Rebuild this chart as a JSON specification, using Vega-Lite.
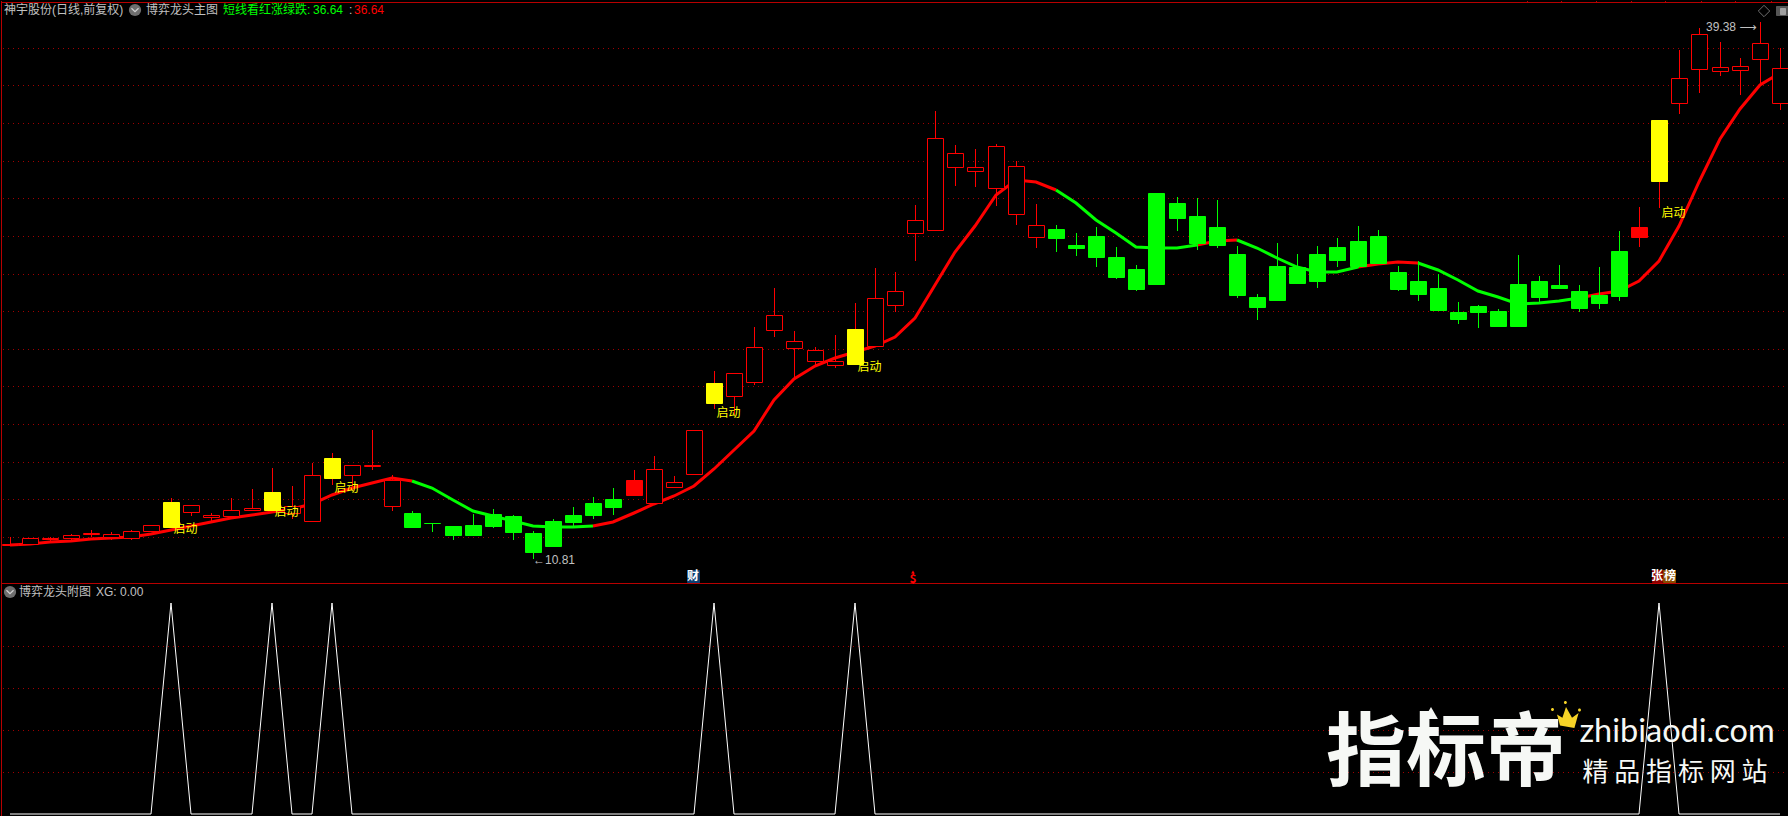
{
"$schema":"https://vega.github.io/schema/vega-lite/v6.json",
"background":"#000000","padding":0,"spacing":0,"bounds":"flush",
"autosize":{"type":"pad"},
"config":{"view":{"stroke":null},"concat":{"spacing":0}},
"datasets":{
"candles":[
{"d":0,"open":11.58,"close":11.62,"high":11.97,"low":11.56,"kind":"up"},
{"d":1,"open":11.60,"close":11.93,"high":11.93,"low":11.60,"kind":"up"},
{"d":2,"open":11.87,"close":11.93,"high":11.99,"low":11.70,"kind":"up"},
{"d":3,"open":11.91,"close":12.07,"high":12.15,"low":11.83,"kind":"up"},
{"d":4,"open":12.15,"close":12.19,"high":12.38,"low":11.99,"kind":"up"},
{"d":5,"open":11.97,"close":12.13,"high":12.27,"low":11.83,"kind":"up"},
{"d":6,"open":11.95,"close":12.29,"high":12.38,"low":11.85,"kind":"up"},
{"d":7,"open":12.33,"close":12.62,"high":12.62,"low":12.23,"kind":"up"},
{"d":8,"open":12.54,"close":13.86,"high":14.06,"low":12.52,"kind":"signal"},
{"d":9,"open":13.31,"close":13.68,"high":13.68,"low":13.13,"kind":"up"},
{"d":10,"open":13.05,"close":13.15,"high":13.27,"low":12.84,"kind":"up"},
{"d":11,"open":13.11,"close":13.41,"high":14.06,"low":12.99,"kind":"up"},
{"d":12,"open":13.45,"close":13.51,"high":14.55,"low":13.39,"kind":"up"},
{"d":13,"open":13.43,"close":14.39,"high":15.67,"low":13.39,"kind":"signal"},
{"d":14,"open":13.27,"close":13.66,"high":14.72,"low":12.92,"kind":"up"},
{"d":15,"open":12.86,"close":15.29,"high":15.94,"low":12.80,"kind":"up"},
{"d":16,"open":15.14,"close":16.20,"high":16.47,"low":14.76,"kind":"signal"},
{"d":17,"open":15.26,"close":15.81,"high":15.81,"low":14.41,"kind":"up"},
{"d":18,"open":15.75,"close":15.81,"high":17.69,"low":15.57,"kind":"up"},
{"d":19,"open":13.62,"close":15.00,"high":15.26,"low":13.39,"kind":"up"},
{"d":20,"open":13.27,"close":12.54,"high":13.37,"low":12.54,"kind":"down"},
{"d":21,"open":12.76,"close":12.72,"high":12.76,"low":12.27,"kind":"down"},
{"d":22,"open":12.58,"close":12.11,"high":12.58,"low":11.85,"kind":"down"},
{"d":23,"open":12.64,"close":12.11,"high":13.21,"low":12.11,"kind":"down"},
{"d":24,"open":13.23,"close":12.58,"high":13.49,"low":12.48,"kind":"down"},
{"d":25,"open":13.13,"close":12.27,"high":13.17,"low":11.81,"kind":"down"},
{"d":26,"open":12.21,"close":11.19,"high":12.31,"low":10.81,"kind":"down"},
{"d":27,"open":12.84,"close":11.52,"high":12.92,"low":11.52,"kind":"down"},
{"d":28,"open":13.17,"close":12.80,"high":13.60,"low":12.56,"kind":"down"},
{"d":29,"open":13.80,"close":13.17,"high":14.10,"low":12.92,"kind":"down"},
{"d":30,"open":14.02,"close":13.60,"high":14.61,"low":13.17,"kind":"down"},
{"d":31,"open":14.23,"close":15.04,"high":15.57,"low":14.15,"kind":"limit"},
{"d":32,"open":13.82,"close":15.59,"high":16.30,"low":13.82,"kind":"up"},
{"d":33,"open":14.67,"close":14.92,"high":15.24,"low":14.67,"kind":"up"},
{"d":34,"open":15.33,"close":17.67,"high":17.67,"low":15.33,"kind":"up"},
{"d":35,"open":19.13,"close":20.19,"high":20.82,"low":18.77,"kind":"signal"},
{"d":36,"open":19.48,"close":20.70,"high":20.70,"low":18.48,"kind":"up"},
{"d":37,"open":20.21,"close":22.08,"high":23.16,"low":20.05,"kind":"up"},
{"d":38,"open":22.98,"close":23.79,"high":25.24,"low":22.63,"kind":"up"},
{"d":39,"open":22.02,"close":22.41,"high":22.94,"low":20.37,"kind":"up"},
{"d":40,"open":21.33,"close":21.94,"high":22.08,"low":21.13,"kind":"up"},
{"d":41,"open":21.13,"close":21.35,"high":22.73,"low":21.00,"kind":"up"},
{"d":42,"open":21.21,"close":23.06,"high":24.44,"low":21.21,"kind":"signal"},
{"d":43,"open":22.12,"close":24.69,"high":26.31,"low":22.12,"kind":"up"},
{"d":44,"open":24.30,"close":25.07,"high":26.09,"low":23.97,"kind":"up"},
{"d":45,"open":28.13,"close":28.84,"high":29.65,"low":26.68,"kind":"up"},
{"d":46,"open":28.29,"close":33.19,"high":34.66,"low":28.29,"kind":"up"},
{"d":47,"open":31.65,"close":32.40,"high":32.81,"low":30.67,"kind":"up"},
{"d":48,"open":31.44,"close":31.67,"high":32.60,"low":30.61,"kind":"up"},
{"d":49,"open":30.57,"close":32.77,"high":32.89,"low":29.61,"kind":"up"},
{"d":50,"open":29.14,"close":31.71,"high":31.99,"low":28.59,"kind":"up"},
{"d":51,"open":27.92,"close":28.57,"high":29.71,"low":27.37,"kind":"up"},
{"d":52,"open":28.39,"close":27.90,"high":28.59,"low":27.15,"kind":"down"},
{"d":53,"open":27.54,"close":27.37,"high":28.17,"low":26.95,"kind":"down"},
{"d":54,"open":28.00,"close":26.88,"high":28.49,"low":26.36,"kind":"down"},
{"d":55,"open":26.88,"close":25.83,"high":27.43,"low":25.72,"kind":"down"},
{"d":56,"open":26.25,"close":25.20,"high":26.46,"low":25.09,"kind":"down"},
{"d":57,"open":30.30,"close":25.46,"high":30.30,"low":25.46,"kind":"down"},
{"d":58,"open":29.75,"close":28.96,"high":30.08,"low":28.27,"kind":"down"},
{"d":59,"open":29.08,"close":27.62,"high":30.04,"low":27.27,"kind":"down"},
{"d":60,"open":28.49,"close":27.54,"high":29.92,"low":27.37,"kind":"down"},
{"d":61,"open":27.05,"close":24.87,"high":27.47,"low":24.71,"kind":"down"},
{"d":62,"open":24.77,"close":24.24,"high":24.93,"low":23.55,"kind":"down"},
{"d":63,"open":26.42,"close":24.61,"high":27.64,"low":24.61,"kind":"down"},
{"d":64,"open":26.36,"close":25.50,"high":27.05,"low":25.46,"kind":"down"},
{"d":65,"open":27.05,"close":25.62,"high":27.47,"low":25.24,"kind":"down"},
{"d":66,"open":27.43,"close":26.74,"high":27.90,"low":26.36,"kind":"down"},
{"d":67,"open":27.74,"close":26.42,"high":28.53,"low":26.31,"kind":"down"},
{"d":68,"open":28.00,"close":26.58,"high":28.33,"low":26.58,"kind":"down"},
{"d":69,"open":26.09,"close":25.20,"high":26.42,"low":25.09,"kind":"down"},
{"d":70,"open":25.62,"close":24.93,"high":26.66,"low":24.54,"kind":"down"},
{"d":71,"open":25.24,"close":24.08,"high":25.95,"low":24.02,"kind":"down"},
{"d":72,"open":23.97,"close":23.59,"high":24.50,"low":23.32,"kind":"down"},
{"d":73,"open":24.28,"close":23.97,"high":24.34,"low":23.12,"kind":"down"},
{"d":74,"open":24.02,"close":23.22,"high":24.12,"low":23.16,"kind":"down"},
{"d":75,"open":25.46,"close":23.22,"high":27.01,"low":23.22,"kind":"down"},
{"d":76,"open":25.62,"close":24.77,"high":25.89,"low":24.38,"kind":"down"},
{"d":77,"open":25.40,"close":25.24,"high":26.46,"low":25.20,"kind":"down"},
{"d":78,"open":25.09,"close":24.18,"high":25.40,"low":23.97,"kind":"down"},
{"d":79,"open":24.87,"close":24.44,"high":26.36,"low":24.12,"kind":"down"},
{"d":80,"open":27.21,"close":24.81,"high":28.25,"low":24.54,"kind":"down"},
{"d":81,"open":27.96,"close":28.49,"high":29.55,"low":27.43,"kind":"limit"},
{"d":82,"open":30.93,"close":34.17,"high":34.17,"low":29.49,"kind":"signal"},
{"d":83,"open":35.05,"close":36.39,"high":37.89,"low":34.50,"kind":"up"},
{"d":84,"open":36.86,"close":38.73,"high":39.07,"low":35.61,"kind":"up"},
{"d":85,"open":36.75,"close":36.98,"high":38.32,"low":36.51,"kind":"up"},
{"d":86,"open":36.80,"close":37.04,"high":37.45,"low":35.51,"kind":"up"},
{"d":87,"open":37.39,"close":38.26,"high":39.38,"low":36.08,"kind":"up"},
{"d":88,"open":35.05,"close":36.92,"high":37.98,"low":34.72,"kind":"up"}
],
"ma":[
{"d":0,"ma":11.58,"seg":1,"trend":"up"},{"d":1,"ma":11.62,"seg":1,"trend":"up"},{"d":2,"ma":11.70,"seg":1,"trend":"up"},{"d":3,"ma":11.79,"seg":1,"trend":"up"},{"d":4,"ma":11.87,"seg":1,"trend":"up"},{"d":5,"ma":11.95,"seg":1,"trend":"up"},{"d":6,"ma":12.01,"seg":1,"trend":"up"},{"d":7,"ma":12.15,"seg":1,"trend":"up"},{"d":8,"ma":12.38,"seg":1,"trend":"up"},{"d":9,"ma":12.56,"seg":1,"trend":"up"},{"d":10,"ma":12.78,"seg":1,"trend":"up"},{"d":11,"ma":13.01,"seg":1,"trend":"up"},{"d":12,"ma":13.17,"seg":1,"trend":"up"},{"d":13,"ma":13.33,"seg":1,"trend":"up"},{"d":14,"ma":13.47,"seg":1,"trend":"up"},{"d":15,"ma":13.74,"seg":1,"trend":"up"},{"d":16,"ma":14.23,"seg":1,"trend":"up"},{"d":17,"ma":14.59,"seg":1,"trend":"up"},{"d":18,"ma":14.88,"seg":1,"trend":"up"},{"d":19,"ma":15.10,"seg":1,"trend":"up"},{"d":20,"ma":14.98,"seg":1,"trend":"up"},
{"d":20,"ma":14.98,"seg":2,"trend":"down"},{"d":21,"ma":14.57,"seg":2,"trend":"down"},{"d":22,"ma":13.96,"seg":2,"trend":"down"},{"d":23,"ma":13.37,"seg":2,"trend":"down"},{"d":24,"ma":13.09,"seg":2,"trend":"down"},{"d":25,"ma":12.84,"seg":2,"trend":"down"},{"d":26,"ma":12.56,"seg":2,"trend":"down"},{"d":27,"ma":12.54,"seg":2,"trend":"down"},{"d":28,"ma":12.52,"seg":2,"trend":"down"},{"d":29,"ma":12.60,"seg":2,"trend":"down"},
{"d":29,"ma":12.60,"seg":3,"trend":"up"},{"d":30,"ma":12.78,"seg":3,"trend":"up"},{"d":31,"ma":13.29,"seg":3,"trend":"up"},{"d":32,"ma":13.74,"seg":3,"trend":"up"},{"d":33,"ma":14.15,"seg":3,"trend":"up"},{"d":34,"ma":14.72,"seg":3,"trend":"up"},{"d":35,"ma":15.61,"seg":3,"trend":"up"},{"d":36,"ma":16.59,"seg":3,"trend":"up"},{"d":37,"ma":17.61,"seg":3,"trend":"up"},{"d":38,"ma":19.25,"seg":3,"trend":"up"},{"d":39,"ma":20.37,"seg":3,"trend":"up"},{"d":40,"ma":21.09,"seg":3,"trend":"up"},{"d":41,"ma":21.53,"seg":3,"trend":"up"},{"d":42,"ma":21.80,"seg":3,"trend":"up"},{"d":43,"ma":22.14,"seg":3,"trend":"up"},{"d":44,"ma":22.61,"seg":3,"trend":"up"},{"d":45,"ma":23.63,"seg":3,"trend":"up"},{"d":46,"ma":25.40,"seg":3,"trend":"up"},{"d":47,"ma":27.13,"seg":3,"trend":"up"},{"d":48,"ma":28.51,"seg":3,"trend":"up"},{"d":49,"ma":30.18,"seg":3,"trend":"up"},{"d":50,"ma":30.95,"seg":3,"trend":"up"},{"d":51,"ma":30.87,"seg":3,"trend":"up"},{"d":52,"ma":30.43,"seg":3,"trend":"up"},
{"d":52,"ma":30.43,"seg":4,"trend":"down"},{"d":53,"ma":29.77,"seg":4,"trend":"down"},{"d":54,"ma":28.84,"seg":4,"trend":"down"},{"d":55,"ma":28.15,"seg":4,"trend":"down"},{"d":56,"ma":27.43,"seg":4,"trend":"down"},{"d":57,"ma":27.33,"seg":4,"trend":"down"},{"d":58,"ma":27.37,"seg":4,"trend":"down"},{"d":59,"ma":27.54,"seg":4,"trend":"down"},
{"d":59,"ma":27.54,"seg":5,"trend":"up"},{"d":60,"ma":27.72,"seg":5,"trend":"up"},{"d":61,"ma":27.76,"seg":5,"trend":"up"},
{"d":61,"ma":27.76,"seg":6,"trend":"down"},{"d":62,"ma":27.33,"seg":6,"trend":"down"},{"d":63,"ma":26.80,"seg":6,"trend":"down"},{"d":64,"ma":26.36,"seg":6,"trend":"down"},{"d":65,"ma":26.07,"seg":6,"trend":"down"},{"d":66,"ma":26.09,"seg":6,"trend":"down"},{"d":67,"ma":26.36,"seg":6,"trend":"down"},
{"d":67,"ma":26.36,"seg":7,"trend":"up"},{"d":68,"ma":26.52,"seg":7,"trend":"up"},{"d":69,"ma":26.62,"seg":7,"trend":"up"},{"d":70,"ma":26.54,"seg":7,"trend":"up"},
{"d":70,"ma":26.54,"seg":8,"trend":"down"},{"d":71,"ma":26.21,"seg":8,"trend":"down"},{"d":72,"ma":25.64,"seg":8,"trend":"down"},{"d":73,"ma":25.09,"seg":8,"trend":"down"},{"d":74,"ma":24.73,"seg":8,"trend":"down"},{"d":75,"ma":24.38,"seg":8,"trend":"down"},{"d":76,"ma":24.44,"seg":8,"trend":"down"},{"d":77,"ma":24.54,"seg":8,"trend":"down"},{"d":78,"ma":24.69,"seg":8,"trend":"down"},
{"d":78,"ma":24.69,"seg":9,"trend":"up"},{"d":79,"ma":24.89,"seg":9,"trend":"up"},{"d":80,"ma":25.09,"seg":9,"trend":"up"},{"d":81,"ma":25.58,"seg":9,"trend":"up"},{"d":82,"ma":26.68,"seg":9,"trend":"up"},{"d":83,"ma":28.55,"seg":9,"trend":"up"},{"d":84,"ma":30.89,"seg":9,"trend":"up"},{"d":85,"ma":33.13,"seg":9,"trend":"up"},{"d":86,"ma":34.76,"seg":9,"trend":"up"},{"d":87,"ma":36.04,"seg":9,"trend":"up"},{"d":88,"ma":36.64,"seg":9,"trend":"up"}
],
"priceGrid":[{"level":12,"d":-0.38,"dEnd":88.38},{"level":14,"d":-0.38,"dEnd":88.38},{"level":16,"d":-0.38,"dEnd":88.38},{"level":18,"d":-0.38,"dEnd":88.38},{"level":20,"d":-0.38,"dEnd":88.38},{"level":22,"d":-0.38,"dEnd":88.38},{"level":24,"d":-0.38,"dEnd":88.38},{"level":26,"d":-0.38,"dEnd":88.38},{"level":28,"d":-0.38,"dEnd":88.38},{"level":30,"d":-0.38,"dEnd":88.38},{"level":32,"d":-0.38,"dEnd":88.38},{"level":34,"d":-0.38,"dEnd":88.38},{"level":36,"d":-0.38,"dEnd":88.38},{"level":38,"d":-0.38,"dEnd":88.38}],
"priceFrame":[{"level":40.44,"d":-0.457,"dEnd":88.455},{"level":9.54,"d":-0.457,"dEnd":88.455}],
"topTicks":[{"d":75.44,"lo":40.44,"hi":40.49},{"d":77.12,"lo":40.44,"hi":40.49},{"d":78.85,"lo":40.44,"hi":40.49},{"d":80.62,"lo":40.44,"hi":40.49},{"d":82.31,"lo":40.44,"hi":40.49},{"d":84.08,"lo":40.44,"hi":40.49},{"d":85.79,"lo":40.44,"hi":40.49},{"d":87.56,"lo":40.44,"hi":40.49}],
"signals":[{"d":8,"price":12.42,"label":"启动"},{"d":13,"price":13.33,"label":"启动"},{"d":16,"price":14.59,"label":"启动"},{"d":35,"price":18.58,"label":"启动"},{"d":42,"price":21.02,"label":"启动"},{"d":82,"price":29.22,"label":"启动"}],
"topText":[
{"d":-0.30,"price":39.99,"label":"神宇股份(日线,前复权)","role":"gray"},
{"d":6.73,"price":39.99,"label":"博弈龙头主图","role":"gray"},
{"d":10.56,"price":39.99,"label":"短线看红涨绿跌:","role":"green"},
{"d":15.08,"price":39.99,"label":"36.64","role":"green"},
{"d":16.87,"price":39.99,"label":":","role":"gray"},
{"d":17.12,"price":39.99,"label":"36.64","role":"red"},
{"d":26,"price":10.75,"label":"←10.81","role":"gray"},
{"d":84.33,"price":39.09,"label":"39.38 ⟶","role":"gray"}
],
"chips":[
{"d":33.65,"dEnd":34.28,"lo":9.54,"hi":10.22,"role":"财"},
{"d":81.62,"dEnd":82.21,"lo":9.54,"hi":10.22,"role":"张"},
{"d":82.21,"dEnd":82.86,"lo":9.54,"hi":10.22,"role":"榜"},
{"d":87.83,"dEnd":89,"lo":39.67,"hi":40.20,"role":"btn"},
{"d":88.03,"dEnd":88.33,"lo":39.75,"hi":40.12,"role":"btnIn"}
],
"chipText":[{"d":33.96,"price":9.89,"label":"财","role":"white"},{"d":81.91,"price":9.89,"label":"张","role":"white"},{"d":82.53,"price":9.89,"label":"榜","role":"white"},{"d":44.9,"price":9.77,"label":"$","role":"red"}],
"topIcons":[{"d":6.22,"price":39.99}],
"dollarMark":[{"d":44.9,"price":10.15}],
"diamond":[{"d":87.22,"price":39.95}],
"borderTop":[{"d":-0.457,"lo":9.49,"hi":40.49}],
"borderBottom":[{"d":-0.457,"lo":-0.0128,"hi":1.0915}],
"xg":[
{"d":0,"xg":0},{"d":7,"xg":0},{"d":8,"xg":1},{"d":9,"xg":0},{"d":12,"xg":0},{"d":13,"xg":1},{"d":14,"xg":0},{"d":15,"xg":0},{"d":16,"xg":1},{"d":17,"xg":0},{"d":34,"xg":0},{"d":35,"xg":1},{"d":36,"xg":0},{"d":41,"xg":0},{"d":42,"xg":1},{"d":43,"xg":0},{"d":81,"xg":0},{"d":82,"xg":1},{"d":83,"xg":0},{"d":88,"xg":0}
],
"xgGrid":[{"level":0.2,"d":-0.38,"dEnd":88.38},{"level":0.4,"d":-0.38,"dEnd":88.38},{"level":0.6,"d":-0.38,"dEnd":88.38},{"level":0.8,"d":-0.38,"dEnd":88.38}],
"xgText":[{"d":0.46,"v":1.055,"label":"博弈龙头附图"},{"d":4.28,"v":1.055,"label":"XG: 0.00"}],
"xgIcon":[{"d":-0.03,"v":1.055}],
"brand":[{"d":71.42,"v":0.279,"label":"指标帝"}],
"brandUrl":[{"d":82.87,"v":0.391,"label":"zhibiaodi.com"}],
"brandSub":[{"d":82.78,"v":0.197,"label":"精 品 指 标 网 站"}],
"brandArrow":[{"d":70.64,"v":0.48}],
"brandCrown":[{"d":77.36,"v":0.466}]
},
"vconcat":[
{"width":1788,"height":583,
 "resolve":{"scale":{"color":"independent","fill":"independent","stroke":"independent"}},
 "encoding":{"x":{"field":"d","type":"quantitative","scale":{"domain":[-0.457,88.455],"nice":false,"zero":false,"round":true,"padding":0},"axis":null}},
 "layer":[
  {"data":{"name":"priceGrid"},"mark":{"type":"rule","stroke":"#a00000","strokeWidth":1,"strokeDash":[1,4],"yOffset":0.5},"encoding":{"x2":{"field":"dEnd"},"y":{"field":"level","type":"quantitative","scale":{"domain":[9.49,40.49],"nice":false,"zero":false,"round":true},"axis":null}}},
  {"data":{"name":"priceFrame"},"mark":{"type":"rule","stroke":"#b80000","strokeWidth":1,"yOffset":0.5},"encoding":{"x2":{"field":"dEnd"},"y":{"field":"level","type":"quantitative","scale":{"domain":[9.49,40.49],"nice":false,"zero":false,"round":true},"axis":null}}},
  {"data":{"name":"topTicks"},"mark":{"type":"rule","stroke":"#b80000","strokeWidth":1,"xOffset":0.5},"encoding":{"y":{"field":"lo","type":"quantitative","scale":{"domain":[9.49,40.49],"nice":false,"zero":false,"round":true},"axis":null},"y2":{"field":"hi"}}},
  {"data":{"name":"borderTop"},"mark":{"type":"rule","stroke":"#b80000","strokeWidth":1,"xOffset":0.5},"encoding":{"y":{"field":"lo","type":"quantitative","scale":{"domain":[9.49,40.49],"nice":false,"zero":false,"round":true},"axis":null},"y2":{"field":"hi"}}},
  {"data":{"name":"ma"},"mark":{"type":"line","strokeWidth":3,"interpolate":"linear","strokeCap":"butt"},"encoding":{"y":{"field":"ma","type":"quantitative","scale":{"domain":[9.49,40.49],"nice":false,"zero":false,"round":true},"axis":null},"detail":{"field":"seg"},"color":{"field":"trend","type":"nominal","scale":{"domain":["up","down"],"range":["#ff0000","#00ff00"]},"legend":null}}},
  {"data":{"name":"candles"},"mark":{"type":"rule","strokeWidth":1,"xOffset":0.5},"encoding":{"y":{"field":"high","type":"quantitative","scale":{"domain":[9.49,40.49],"nice":false,"zero":false,"round":true},"axis":null},"y2":{"field":"low"},"color":{"field":"kind","type":"nominal","scale":{"domain":["up","down","signal","limit"],"range":["#ff0000","#00ff00","#ff0000","#ff0000"]},"legend":null}}},
  {"data":{"name":"candles"},"mark":{"type":"bar","size":16,"strokeWidth":1,"xOffset":0.5,"yOffset":0.5,"y2Offset":0.5,"opacity":1},"encoding":{"y":{"field":"open","type":"quantitative","scale":{"domain":[9.49,40.49],"nice":false,"zero":false,"round":true},"axis":null},"y2":{"field":"close"},"fill":{"field":"kind","type":"nominal","scale":{"domain":["up","down","signal","limit"],"range":["#000000","#00ff00","#ffff00","#ff0000"]},"legend":null},"stroke":{"field":"kind","type":"nominal","scale":{"domain":["up","down","signal","limit"],"range":["#ff0000","#00ff00","#ffff00","#ff0000"]},"legend":null}}},
  {"data":{"name":"signals"},"mark":{"type":"text","color":"#ffff00","fontSize":12,"font":"Noto Sans CJK SC","dx":14.5,"baseline":"middle","align":"center"},"encoding":{"y":{"field":"price","type":"quantitative","scale":{"domain":[9.49,40.49],"nice":false,"zero":false,"round":true},"axis":null},"text":{"field":"label"}}},
  {"data":{"name":"topText"},"mark":{"type":"text","fontSize":12,"font":"Liberation Sans, DejaVu Sans, Noto Sans CJK SC","baseline":"middle","align":"left"},"encoding":{"y":{"field":"price","type":"quantitative","scale":{"domain":[9.49,40.49],"nice":false,"zero":false,"round":true},"axis":null},"text":{"field":"label"},"color":{"field":"role","type":"nominal","scale":{"domain":["gray","green","red"],"range":["#c0c0c0","#00ff00","#ff0000"]},"legend":null}}},
  {"data":{"name":"topIcons"},"mark":{"type":"point","shape":"circle","filled":true,"size":150,"color":"#6e6e6e","opacity":1},"encoding":{"y":{"field":"price","type":"quantitative","scale":{"domain":[9.49,40.49],"nice":false,"zero":false,"round":true},"axis":null}}},
  {"data":{"name":"topIcons"},"mark":{"type":"point","shape":"M-0.5,-0.25L0,0.25L0.5,-0.25","filled":false,"size":200,"stroke":"#d0d0d0","strokeWidth":1.2,"opacity":1},"encoding":{"y":{"field":"price","type":"quantitative","scale":{"domain":[9.49,40.49],"nice":false,"zero":false,"round":true},"axis":null}}},
  {"data":{"name":"diamond"},"mark":{"type":"point","shape":"diamond","filled":false,"size":130,"stroke":"#707070","strokeWidth":1,"opacity":1},"encoding":{"y":{"field":"price","type":"quantitative","scale":{"domain":[9.49,40.49],"nice":false,"zero":false,"round":true},"axis":null}}},
  {"data":{"name":"chips"},"mark":{"type":"rect","cornerRadius":1},"encoding":{"x2":{"field":"dEnd"},"y":{"field":"lo","type":"quantitative","scale":{"domain":[9.49,40.49],"nice":false,"zero":false,"round":true},"axis":null},"y2":{"field":"hi"},"fill":{"field":"role","type":"nominal","scale":{"domain":["财","张","榜","btn","btnIn"],"range":["#0d3f70","#8b0000","#8a4b00","#555555","#a0a0a0"]},"legend":null}}},
  {"data":{"name":"chipText"},"mark":{"type":"text","fontSize":12,"font":"Noto Sans CJK SC","baseline":"middle","align":"center","fontWeight":"bold"},"encoding":{"y":{"field":"price","type":"quantitative","scale":{"domain":[9.49,40.49],"nice":false,"zero":false,"round":true},"axis":null},"text":{"field":"label"},"color":{"field":"role","type":"nominal","scale":{"domain":["white","red"],"range":["#ffffff","#ff0000"]},"legend":null}}},
  {"data":{"name":"dollarMark"},"mark":{"type":"point","shape":"triangle-up","filled":true,"size":14,"color":"#ff0000","opacity":1},"encoding":{"y":{"field":"price","type":"quantitative","scale":{"domain":[9.49,40.49],"nice":false,"zero":false,"round":true},"axis":null}}}
 ]},
{"width":1788,"height":233,
 "encoding":{"x":{"field":"d","type":"quantitative","scale":{"domain":[-0.457,88.455],"nice":false,"zero":false,"round":true,"padding":0},"axis":null}},
 "layer":[
  {"data":{"name":"xgGrid"},"mark":{"type":"rule","stroke":"#a00000","strokeWidth":1,"strokeDash":[1,4],"yOffset":0.5},"encoding":{"x2":{"field":"dEnd"},"y":{"field":"level","type":"quantitative","scale":{"domain":[-0.0128,1.0915],"nice":false,"zero":false,"round":true},"axis":null}}},
  {"data":{"name":"borderBottom"},"mark":{"type":"rule","stroke":"#b80000","strokeWidth":1,"xOffset":0.5},"encoding":{"y":{"field":"lo","type":"quantitative","scale":{"domain":[-0.0128,1.0915],"nice":false,"zero":false,"round":true},"axis":null},"y2":{"field":"hi"}}},
  {"data":{"name":"xg"},"mark":{"type":"line","stroke":"#ffffff","strokeWidth":1,"interpolate":"linear"},"encoding":{"y":{"field":"xg","type":"quantitative","scale":{"domain":[-0.0128,1.0915],"nice":false,"zero":false,"round":true},"axis":null}}},
  {"data":{"name":"xgText"},"mark":{"type":"text","fontSize":12,"font":"Liberation Sans, Noto Sans CJK SC","color":"#c0c0c0","baseline":"middle","align":"left"},"encoding":{"y":{"field":"v","type":"quantitative","scale":{"domain":[-0.0128,1.0915],"nice":false,"zero":false,"round":true},"axis":null},"text":{"field":"label"}}},
  {"data":{"name":"xgIcon"},"mark":{"type":"point","shape":"circle","filled":true,"size":150,"color":"#6e6e6e","opacity":1},"encoding":{"y":{"field":"v","type":"quantitative","scale":{"domain":[-0.0128,1.0915],"nice":false,"zero":false,"round":true},"axis":null}}},
  {"data":{"name":"xgIcon"},"mark":{"type":"point","shape":"M-0.5,-0.25L0,0.25L0.5,-0.25","filled":false,"size":200,"stroke":"#d0d0d0","strokeWidth":1.2,"opacity":1},"encoding":{"y":{"field":"v","type":"quantitative","scale":{"domain":[-0.0128,1.0915],"nice":false,"zero":false,"round":true},"axis":null}}},
  {"data":{"name":"brand"},"mark":{"type":"text","fontSize":80,"font":"Noto Sans CJK SC","fontWeight":"bold","color":"#f6f8f5","baseline":"middle","align":"center"},"encoding":{"y":{"field":"v","type":"quantitative","scale":{"domain":[-0.0128,1.0915],"nice":false,"zero":false,"round":true},"axis":null},"text":{"field":"label"}}},
  {"data":{"name":"brandArrow"},"mark":{"type":"point","shape":"triangle-up","filled":true,"size":190,"color":"#f6f8f5","opacity":1},"encoding":{"y":{"field":"v","type":"quantitative","scale":{"domain":[-0.0128,1.0915],"nice":false,"zero":false,"round":true},"axis":null}}},
  {"data":{"name":"brandCrown"},"mark":{"type":"point","shape":"M-0.3,-0.05L-0.12,0.06L0,-0.3L0.2,0.06L0.42,-0.1L0.28,0.4L-0.2,0.32ZM-0.5,-0.22a0.05,0.05 0 1,0 0.1,0a0.05,0.05 0 1,0 -0.1,0ZM-0.07,-0.45a0.05,0.05 0 1,0 0.1,0a0.05,0.05 0 1,0 -0.1,0ZM0.4,-0.2a0.05,0.05 0 1,0 0.1,0a0.05,0.05 0 1,0 -0.1,0Z","filled":true,"size":3600,"color":"#f5d327","opacity":1},"encoding":{"y":{"field":"v","type":"quantitative","scale":{"domain":[-0.0128,1.0915],"nice":false,"zero":false,"round":true},"axis":null}}},
  {"data":{"name":"brandUrl"},"mark":{"type":"text","fontSize":32.5,"font":"Lato","color":"#f6f8f5","baseline":"middle","align":"center"},"encoding":{"y":{"field":"v","type":"quantitative","scale":{"domain":[-0.0128,1.0915],"nice":false,"zero":false,"round":true},"axis":null},"text":{"field":"label"}}},
  {"data":{"name":"brandSub"},"mark":{"type":"text","fontSize":26,"font":"Noto Sans CJK SC","color":"#f6f8f5","baseline":"middle","align":"center"},"encoding":{"y":{"field":"v","type":"quantitative","scale":{"domain":[-0.0128,1.0915],"nice":false,"zero":false,"round":true},"axis":null},"text":{"field":"label"}}}
 ]}
]
}
